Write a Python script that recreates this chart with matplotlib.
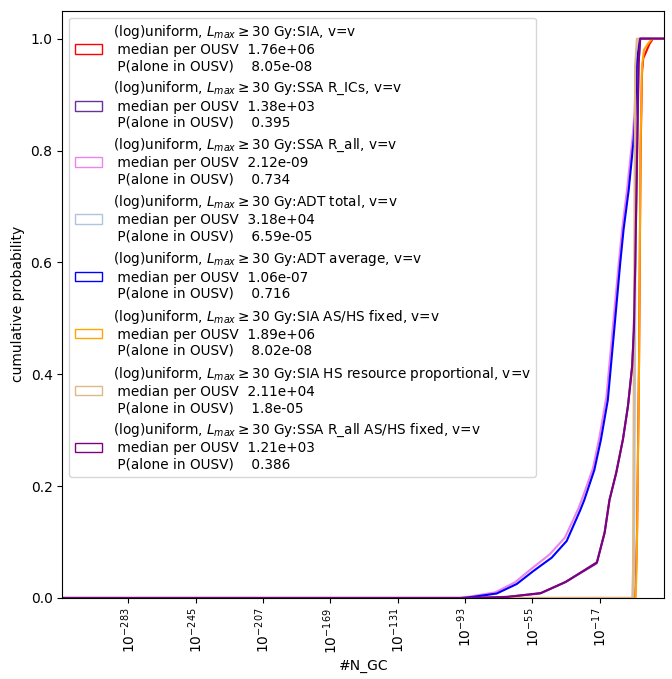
import numpy as np
import matplotlib
matplotlib.use("Agg")
import matplotlib.pyplot as plt
from matplotlib.patches import Patch

# x values are stored as log10(#N_GC), y is the cumulative probability
names = ["SIA", "SSA R_ICs", "SSA R_all", "ADT total", "ADT average",
         "SIA AS/HS fixed", "SIA HS resource proportional", "SSA R_all AS/HS fixed"]
colors = ["red", "rebeccapurple", "violet", "lightsteelblue", "blue",
          "orange", "burlywood", "purple"]
medians = ["1.76e+06", "1.38e+03", "2.12e-09", "3.18e+04", "1.06e-07",
           "1.89e+06", "2.11e+04", "1.21e+03"]
p_alone = ["8.05e-08", "0.395", "0.734", "6.59e-05", "0.716",
           "8.02e-08", "1.8e-05", "0.386"]

XMIN_EXP, XMAX_EXP = -320.2, 19.45

sia_x = [XMIN_EXP, 3.0, 3.4, 4.1, 5.2, 6.1, 6.9, 7.6, 9.0, 11.0, 13.0, XMAX_EXP]
sia_y = [0.0, 0.0, 0.03, 0.12, 0.42, 0.80, 0.94, 0.965, 0.975, 0.99, 1.0, 1.0]

ics_x = [XMIN_EXP, -90, -69.5, -50.7, -36.6, -18.7, -14.3, -11.5, -7.7, -3.9,
         -1.1, 1.3, 2.2, 3.1, 4.05, 5.0, 5.9, XMAX_EXP]
ics_y = [0.0, 0.0, 0.002, 0.008, 0.028, 0.062, 0.116, 0.175, 0.223, 0.283,
         0.342, 0.414, 0.475, 0.60, 0.78, 0.957, 1.0, 1.0]

rall_x = [XMIN_EXP, -96, -89.5, -76.0, -64.8, -55.6, -45.2, -36.6, -29.0,
          -26.6, -20.8, -17.0, -13.2, -9.4, -6.2, -4.3, -1.4, 1.6, 2.7, 3.8, 5.7, XMAX_EXP]
rall_y = [0.0, 0.0, 0.003, 0.01, 0.028, 0.052, 0.078, 0.108, 0.16, 0.18, 0.232,
          0.29, 0.36, 0.49, 0.60, 0.66, 0.735, 0.825, 0.87, 0.965, 1.0, 1.0]

adt_tot_x = [XMIN_EXP, 1.9, 2.4, 3.0, 3.6, 4.3, 5.5, XMAX_EXP]
adt_tot_y = [0.0, 0.0, 0.05, 0.45, 0.90, 0.98, 1.0, 1.0]

adt_avg_x = [XMIN_EXP, -95, -88.5, -75.1, -63.8, -54.5, -44.1, -35.6, -28.1,
             -25.7, -20.0, -16.3, -12.4, -8.6, -5.4, -3.5, -0.6, 2.2, 3.1, 4.05, 5.9, XMAX_EXP]
adt_avg_y = [0.0, 0.0, 0.002, 0.008, 0.025, 0.048, 0.072, 0.102, 0.156, 0.175,
             0.229, 0.283, 0.354, 0.486, 0.599, 0.659, 0.730, 0.820, 0.868, 0.963, 1.0, 1.0]

fixed_x = [XMIN_EXP, 3.2, 3.6, 4.05, 5.18, 6.02, 6.87, 8.0, 10.0, 12.5, XMAX_EXP]
fixed_y = [0.0, 0.0, 0.03, 0.10, 0.40, 0.80, 0.95, 0.98, 0.99, 1.0, 1.0]

hsprop_x = [XMIN_EXP, 1.4, 1.8, 2.4, 3.0, 4.0, XMAX_EXP]
hsprop_y = [0.0, 0.0, 0.05, 0.50, 0.95, 1.0, 1.0]

rall_fixed_x = [XMIN_EXP, -88, -68.5, -50.0, -36.0, -18.5, -14.1, -11.4, -7.6,
                -3.8, -1.0, 1.4, 2.3, 3.1, 4.0, 4.9, 5.8, XMAX_EXP]
rall_fixed_y = [0.0, 0.0, 0.002, 0.009, 0.029, 0.064, 0.118, 0.176, 0.225,
                0.285, 0.344, 0.416, 0.478, 0.60, 0.78, 0.955, 1.0, 1.0]

curves_x = [sia_x, ics_x, rall_x, adt_tot_x, adt_avg_x, fixed_x, hsprop_x, rall_fixed_x]
curves_y = [sia_y, ics_y, rall_y, adt_tot_y, adt_avg_y, fixed_y, hsprop_y, rall_fixed_y]

tick_exps = list(range(-283, 0, 38))

fig = plt.figure(figsize=(6.72, 6.79), dpi=100)
ax = fig.add_axes([0.0927, 0.1193, 0.8958, 0.8649])

handles, labels = [], []
for name, c, med, p, xs, ys in zip(names, colors, medians, p_alone, curves_x, curves_y):
    x = 10.0 ** np.array(xs, dtype=float)
    ax.plot(x, ys, color=c, lw=1.5)
    handles.append(Patch(facecolor="none", edgecolor=c))
    labels.append("(log)uniform, $L_{max}\\geq 30$ Gy:" + name + ", v=v\n"
                  + " median per OUSV  " + med + "\n"
                  + " P(alone in OUSV)    " + p)

ax.set_xscale("log")
ax.set_xlim(10.0 ** XMIN_EXP, 10.0 ** XMAX_EXP)
ax.set_ylim(0, 1.05)
ax.set_xticks([10.0 ** e for e in tick_exps])
ax.minorticks_off()
ax.tick_params(axis="x", labelrotation=90)
ax.set_xlabel("#N_GC")
ax.set_ylabel("cumulative probability")
ax.legend(handles, labels, loc="upper left", fontsize=9.8)

fig.savefig("out.png", dpi=100)
